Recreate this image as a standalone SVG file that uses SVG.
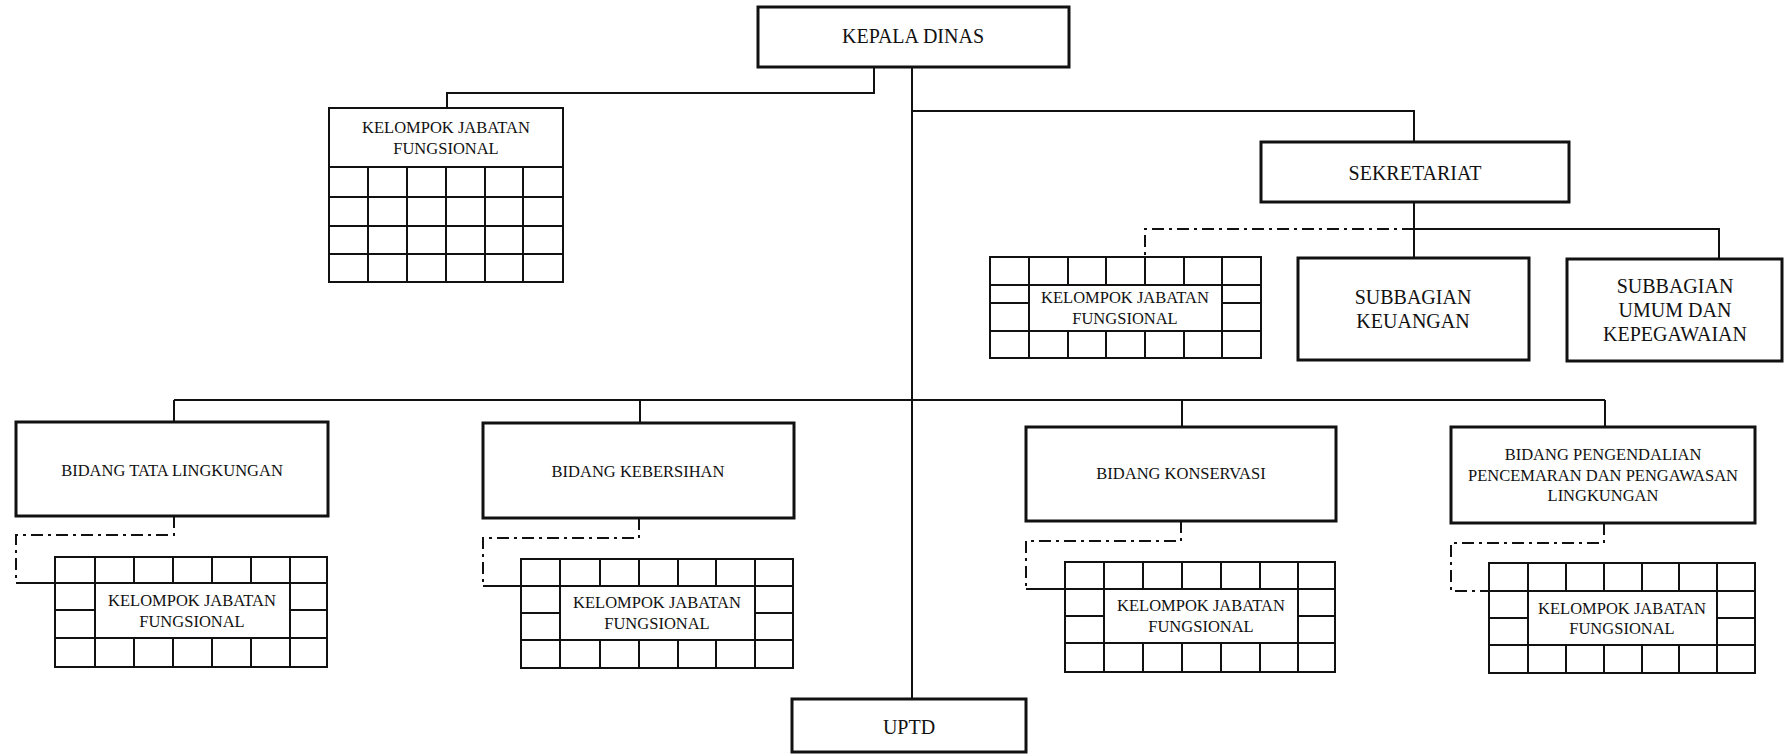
<svg xmlns="http://www.w3.org/2000/svg" width="1784" height="754" viewBox="0 0 1784 754">
<style>
.box{fill:#fff;stroke:#111;stroke-width:3}
.grid{fill:#fff;stroke:#111;stroke-width:2}
.gl{fill:none;stroke:#111;stroke-width:2}
.ln{fill:none;stroke:#111;stroke-width:2}
.dd{fill:none;stroke:#111;stroke-width:2;stroke-dasharray:12 5 3 5}
text{font-family:"Liberation Serif","Times New Roman",serif;fill:#111;text-anchor:middle}
.big{font-size:20px}
.sm{font-size:16.5px}
</style>
<rect width="1784" height="754" fill="#fff"/>
<g id="connectors">
<path class="ln" d="M874 67 V93 H447 V108"/>
<path class="ln" d="M912 67 V699"/>
<path class="ln" d="M912 111 H1414 V142"/>
<path class="ln" d="M1414 202 V258"/>
<path class="ln" d="M1414 229 H1719 V259"/>
<path class="dd" d="M1414 229 H1145 V257"/>
<path class="ln" d="M174 400 H1605"/>
<path class="ln" d="M174 400 V422"/>
<path class="ln" d="M640 400 V423"/>
<path class="ln" d="M1182 400 V427"/>
<path class="ln" d="M1605 400 V427"/>
<path class="dd" d="M174 516 V535 H16 V583"/>
<path class="ln" d="M16 583 H55"/>
<path class="dd" d="M639 518 V538 H483 V586"/>
<path class="ln" d="M483 586 H521"/>
<path class="dd" d="M1181 521 V541 H1026 V589"/>
<path class="ln" d="M1026 589 H1065"/>
<path class="dd" d="M1604 523 V543 H1451 V591 H1489"/>
</g>
<g id="kepala-dinas">
<rect class="box" x="758" y="7" width="311" height="60"/>
<text class="big" x="913" y="43">KEPALA DINAS</text>
</g>
<g id="kjf-kepala">
<rect class="grid" x="329" y="108" width="234" height="174"/>
<path class="gl" d="M329 167 H563 M329 197 H563 M329 226 H563 M329 254 H563 M368 167 V282 M407 167 V282 M446 167 V282 M485 167 V282 M523 167 V282"/>
<text class="sm" x="446" y="133">KELOMPOK JABATAN</text>
<text class="sm" x="446" y="154">FUNGSIONAL</text>
</g>
<g id="sekretariat">
<rect class="box" x="1261" y="142" width="308" height="60"/>
<text class="big" x="1415" y="180">SEKRETARIAT</text>
</g>
<g id="kjf-sekretariat">
<rect class="grid" x="990" y="257" width="271" height="101"/>
<path class="gl" d="M990 285 H1261 M990 331 H1261 M1029 257 V358 M1222 257 V358 M1068 257 V285 M1106 257 V285 M1145 257 V285 M1184 257 V285 M1068 331 V358 M1106 331 V358 M1145 331 V358 M1184 331 V358 M990 303 H1029 M1222 303 H1261"/>
<text class="sm" x="1125" y="303">KELOMPOK JABATAN</text>
<text class="sm" x="1125" y="324">FUNGSIONAL</text>
</g>
<g id="subbagian-keuangan">
<rect class="box" x="1298" y="258" width="231" height="102"/>
<text class="big" x="1413" y="304">SUBBAGIAN</text>
<text class="big" x="1413" y="328">KEUANGAN</text>
</g>
<g id="subbagian-umum">
<rect class="box" x="1567" y="259" width="215" height="102"/>
<text class="big" x="1675" y="293">SUBBAGIAN</text>
<text class="big" x="1675" y="317">UMUM DAN</text>
<text class="big" x="1675" y="341">KEPEGAWAIAN</text>
</g>
<g id="bidang-tata-lingkungan">
<rect class="box" x="16" y="422" width="312" height="94"/>
<text class="sm" x="172" y="476">BIDANG TATA LINGKUNGAN</text>
</g>
<g id="kjf-tata">
<rect class="grid" x="55" y="557" width="272" height="110"/>
<path class="gl" d="M55 583 H327 M55 638 H327 M95 557 V667 M290 557 V667 M134 557 V583 M173 557 V583 M212 557 V583 M251 557 V583 M134 638 V667 M173 638 V667 M212 638 V667 M251 638 V667 M55 610 H95 M290 610 H327"/>
<text class="sm" x="192" y="606">KELOMPOK JABATAN</text>
<text class="sm" x="192" y="627">FUNGSIONAL</text>
</g>
<g id="bidang-kebersihan">
<rect class="box" x="483" y="423" width="311" height="95"/>
<text class="sm" x="638" y="477">BIDANG KEBERSIHAN</text>
</g>
<g id="kjf-kebersihan">
<rect class="grid" x="521" y="559" width="272" height="109"/>
<path class="gl" d="M521 586 H793 M521 640 H793 M560 559 V668 M755 559 V668 M600 559 V586 M639 559 V586 M678 559 V586 M716 559 V586 M600 640 V668 M639 640 V668 M678 640 V668 M716 640 V668 M521 613 H560 M755 613 H793"/>
<text class="sm" x="657" y="608">KELOMPOK JABATAN</text>
<text class="sm" x="657" y="629">FUNGSIONAL</text>
</g>
<g id="bidang-konservasi">
<rect class="box" x="1026" y="427" width="310" height="94"/>
<text class="sm" x="1181" y="479">BIDANG KONSERVASI</text>
</g>
<g id="kjf-konservasi">
<rect class="grid" x="1065" y="562" width="270" height="110"/>
<path class="gl" d="M1065 589 H1335 M1065 643 H1335 M1104 562 V672 M1298 562 V672 M1143 562 V589 M1182 562 V589 M1221 562 V589 M1260 562 V589 M1143 643 V672 M1182 643 V672 M1221 643 V672 M1260 643 V672 M1065 616 H1104 M1298 616 H1335"/>
<text class="sm" x="1201" y="611">KELOMPOK JABATAN</text>
<text class="sm" x="1201" y="632">FUNGSIONAL</text>
</g>
<g id="bidang-pengendalian">
<rect class="box" x="1451" y="427" width="304" height="96"/>
<text class="sm" x="1603" y="460">BIDANG PENGENDALIAN</text>
<text class="sm" x="1603" y="481">PENCEMARAN DAN PENGAWASAN</text>
<text class="sm" x="1603" y="501">LINGKUNGAN</text>
</g>
<g id="kjf-pengendalian">
<rect class="grid" x="1489" y="563" width="266" height="110"/>
<path class="gl" d="M1489 591 H1755 M1489 645 H1755 M1528 563 V673 M1717 563 V673 M1566 563 V591 M1604 563 V591 M1642 563 V591 M1679 563 V591 M1566 645 V673 M1604 645 V673 M1642 645 V673 M1679 645 V673 M1489 618 H1528 M1717 618 H1755"/>
<text class="sm" x="1622" y="614">KELOMPOK JABATAN</text>
<text class="sm" x="1622" y="634">FUNGSIONAL</text>
</g>
<g id="uptd">
<rect class="box" x="792" y="699" width="234" height="53"/>
<text class="big" x="909" y="734">UPTD</text>
</g>
</svg>
